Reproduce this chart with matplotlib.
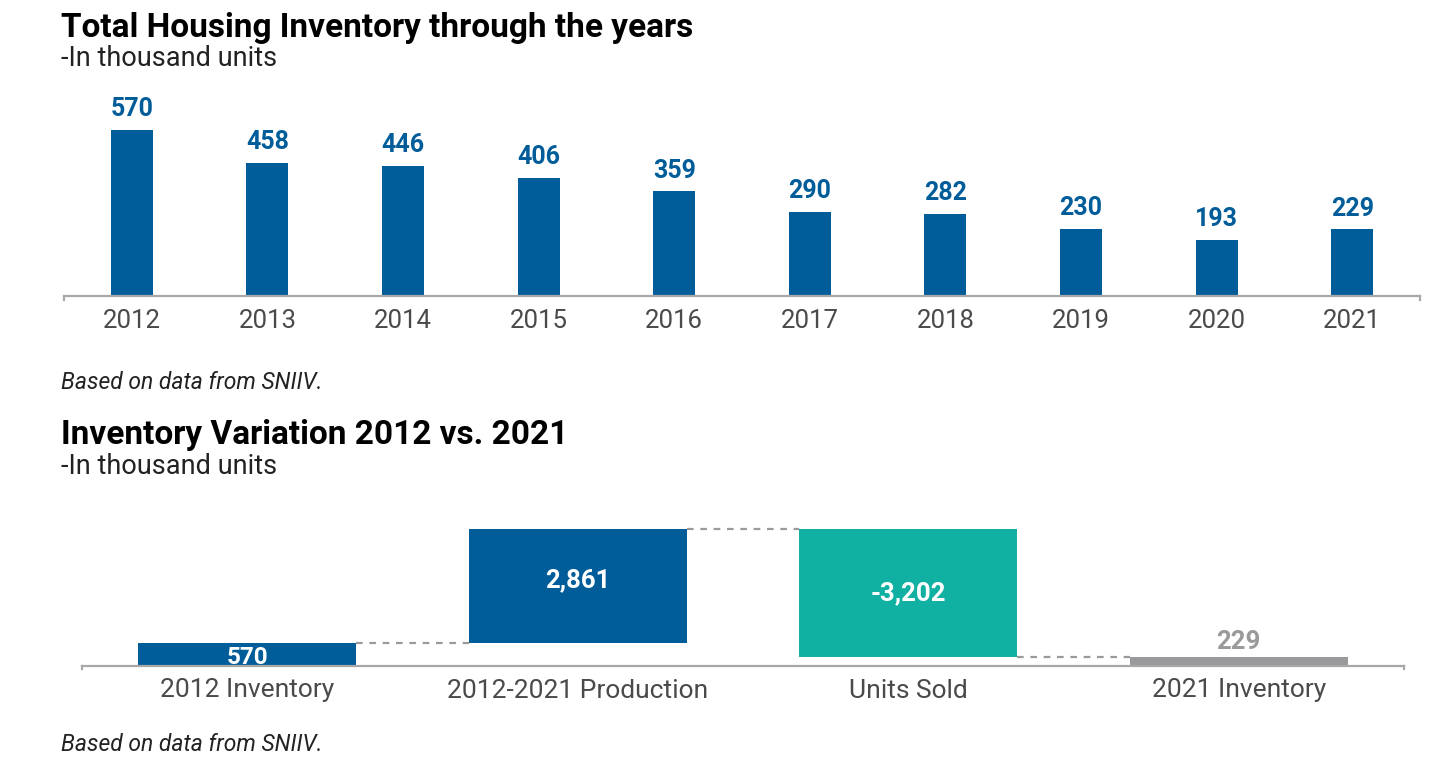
import matplotlib
matplotlib.use("Agg")
import matplotlib.pyplot as plt

plt.rcParams["font.family"] = ["Roboto", "DejaVu Sans"]

# ---------- data ----------
years = ["2012", "2013", "2014", "2015", "2016", "2017", "2018", "2019", "2020", "2021"]
inventory = [570, 458, 446, 406, 359, 290, 282, 230, 193, 229]

wf_labels = ["2012 Inventory", "2012-2021 Production", "Units Sold", "2021 Inventory"]
wf_values = [570, 2861, -3202, 229]

BLUE = "#005d9a"
TEAL = "#10b0a2"
GREY = "#9a9a9c"
AXIS = "#a8a8a8"
TICK = "#4a4a4a"

W, H = 1456, 778
fig = plt.figure(figsize=(W / 100, H / 100), dpi=100)


def px_axes(x0, x1, y_base, y_top):
    """axes from pixel coords (y measured from top)"""
    return fig.add_axes([x0 / W, 1 - y_base / H, (x1 - x0) / W, (y_base - y_top) / H])


def style(ax, size):
    for s in ("top", "right", "left"):
        ax.spines[s].set_visible(False)
    ax.spines["bottom"].set_color(AXIS)
    ax.spines["bottom"].set_linewidth(1.6)
    ax.set_yticks([])
    ax.tick_params(axis="x", length=0, pad=9, labelsize=size, labelcolor=TICK)


# ---------- top chart ----------
ymax1 = 600
ax1 = px_axes(64, 1420, 296, 296 - ymax1 * 166 / 570)
x = range(len(years))
ax1.bar(x, inventory, width=0.31, color=BLUE)
for i, v in enumerate(inventory):
    ax1.text(i, v + 30, f"{v}", ha="center", va="bottom", fontsize=18,
             fontweight="bold", color=BLUE)
ax1.set_xlim(-0.5, len(years) - 0.5)
ax1.set_ylim(0, ymax1)
ax1.set_xticks(list(x))
ax1.set_xticklabels(years)
style(ax1, 18.5)
for xe in (-0.5, len(years) - 0.5):
    ax1.plot([xe, xe], [0, -14], color=AXIS, lw=1.6, clip_on=False)

# ---------- waterfall ----------
ymax2 = 3600
peak = wf_values[0] + wf_values[1]
ax2 = px_axes(82, 1404, 666, 666 - ymax2 * 137 / peak)
bottoms, heights = [], []
run = 0
for i, v in enumerate(wf_values):
    if i == len(wf_values) - 1:
        bottoms.append(0); heights.append(v)
    elif v >= 0:
        bottoms.append(run); heights.append(v); run += v
    else:
        run += v
        bottoms.append(run); heights.append(-v)
colors = [BLUE, BLUE, TEAL, GREY]
wbar = 0.66
ax2.bar(range(4), heights, bottom=bottoms, width=wbar, color=colors)
# connectors
levels = [wf_values[0], peak, peak + wf_values[2]]
for i, lv in enumerate(levels):
    ax2.plot([i + wbar / 2, i + 1 - wbar / 2], [lv, lv], ls=(0, (3, 3)),
             color=GREY, lw=1.6)
# labels
ax2.text(0, wf_values[0] / 2, "570", ha="center", va="center_baseline",
         fontsize=17.5, fontweight="bold", color="white")
ax2.text(1, bottoms[1] + heights[1] * 0.55, f"{wf_values[1]:,}", ha="center",
         va="center", fontsize=18.5, fontweight="bold", color="white")
ax2.text(2, bottoms[2] + heights[2] * 0.5, f"{wf_values[2]:,}", ha="center",
         va="center", fontsize=18.5, fontweight="bold", color="white")
ax2.text(3, wf_values[3] + 80, f"{wf_values[3]}", ha="center", va="bottom",
         fontsize=18.5, fontweight="bold", color=GREY)
ax2.set_xlim(-0.5, 3.5)
ax2.set_ylim(0, ymax2)
ax2.set_xticks(range(4))
ax2.set_xticklabels(wf_labels)
style(ax2, 19)
for xe in (-0.5, 3.5):
    ax2.plot([xe, xe], [0, -80], color=AXIS, lw=1.6, clip_on=False)

# ---------- titles / notes ----------
def ftext(xp, yp, s, **kw):
    fig.text(xp / W, 1 - yp / H, s, **kw)

ftext(61, 37, "Total Housing Inventory through the years", fontsize=24,
      fontweight="bold", color="black", va="baseline")
ftext(61, 66, "-In thousand units", fontsize=19.5, color="#222222", va="baseline")
ftext(61, 389, "Based on data from SNIIV.", fontsize=16.5, style="italic",
      color="#222222", va="baseline")
ftext(61, 444, "Inventory Variation 2012 vs. 2021", fontsize=24,
      fontweight="bold", color="black", va="baseline")
ftext(61, 474, "-In thousand units", fontsize=19.5, color="#222222", va="baseline")
ftext(61, 751, "Based on data from SNIIV.", fontsize=16.5, style="italic",
      color="#222222", va="baseline")

fig.savefig("out.png", dpi=100, facecolor="white")
